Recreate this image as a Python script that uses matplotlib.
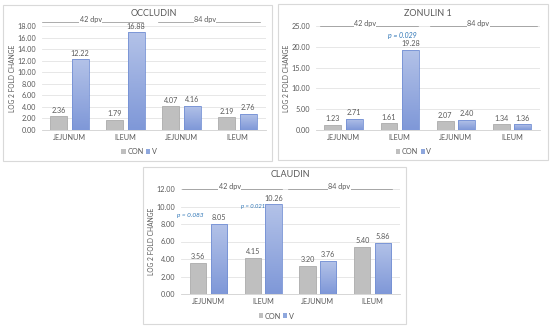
import matplotlib
matplotlib.use("Agg")
import matplotlib.pyplot as plt
from matplotlib.patches import Rectangle
import numpy as np

plt.rcParams['font.family'] = ['Lato', 'DejaVu Sans']

categories = ["JEJUNUM", "ILEUM", "JEJUNUM", "ILEUM"]
series_names = ["CON", "V"]

occludin_con = [2.36, 1.79, 4.07, 2.19]
occludin_v = [12.22, 16.88, 4.16, 2.76]
zonulin_con = [1.23, 1.61, 2.07, 1.34]
zonulin_v = [2.71, 19.28, 2.40, 1.36]
claudin_con = [3.56, 4.15, 3.20, 5.40]
claudin_v = [8.05, 10.26, 3.76, 5.86]

occludin_ticks = [0, 2, 4, 6, 8, 10, 12, 14, 16, 18]
zonulin_ticks = [0, 5, 10, 15, 20, 25]
claudin_ticks = [0, 2, 4, 6, 8, 10, 12]

period_labels = ["42 dpv", "84 dpv"]

TXT = "#595959"
GRAY = "#BFBFBF"
GRAY_E = "#ABABAB"
BLUE_TOP = "#B3C2E8"
BLUE_BOT = "#7F98D8"
BLUE = "#8EA7DD"
BLUE_E = "#7490D4"
PCOL = "#2E75B6"

W, H = 550, 329
fig = plt.figure(figsize=(5.5, 3.29), dpi=100)

def px_box(x0, y0, x1, y1):
    return [x0 / W, 1 - y1 / H, (x1 - x0) / W, (y1 - y0) / H]

# panel borders
for (x0, y0, x1, y1) in [(3, 5, 272, 161), (278, 4, 548, 160), (143, 167, 406, 324)]:
    fig.patches.append(Rectangle((x0 / W, 1 - y1 / H), (x1 - x0) / W, (y1 - y0) / H,
                                 transform=fig.transFigure, fill=False,
                                 edgecolor="#D9D9D9", linewidth=0.8))

def gradient_bars(ax, bars, top, bot):
    from matplotlib.colors import LinearSegmentedColormap
    cmap = LinearSegmentedColormap.from_list("g", [bot, top])
    grad = np.linspace(0, 1, 64).reshape(-1, 1)
    for b in bars:
        x0, y0 = b.get_x(), b.get_y()
        w, h = b.get_width(), b.get_height()
        im = ax.imshow(grad, extent=[x0, x0 + w, y0, y0 + h], origin='lower',
                       aspect='auto', cmap=cmap, zorder=3)
        im.set_clip_path(b)
        b.set_facecolor('none')

def panel(box, title, con, v, ticks, title_y, pvals, segs, line_y, leg_y):
    ax = fig.add_axes(box)
    x = np.arange(len(categories))
    bw = 0.30
    off = 0.19
    ax.bar(x - off, con, bw, color=GRAY, edgecolor=GRAY_E, linewidth=0.6, zorder=3)
    vb = ax.bar(x + off, v, bw, color=BLUE, edgecolor=BLUE_E, linewidth=0.6, zorder=4)
    gradient_bars(ax, vb, BLUE_TOP, BLUE_BOT)
    ymax = ticks[-1]
    ax.set_ylim(0, ymax)
    ax.set_xlim(-0.5, len(categories) - 0.5)
    ax.set_yticks(ticks)
    ax.set_yticklabels([f"{t:.2f}" for t in ticks])
    ax.set_xticks(x)
    ax.set_xticklabels(categories)
    ax.tick_params(axis='both', length=0, labelsize=5.2, colors=TXT, pad=3)
    ax.tick_params(axis='y', pad=4)
    ax.grid(axis='y', color="#E3E3E3", linewidth=0.6, zorder=0)
    for s in ['top', 'right', 'left']:
        ax.spines[s].set_visible(False)
    ax.spines['bottom'].set_color("#D0D0D0")
    ax.spines['bottom'].set_linewidth(0.6)
    ax.set_ylabel("LOG 2 FOLD CHANGE", fontsize=4.8, color=TXT, labelpad=1)
    for xi, val in zip(x - off, con):
        ax.text(xi, val + ymax * 0.025, f"{val:.2f}", ha='center', va='bottom',
                fontsize=5.2, color=TXT)
    for xi, val in zip(x + off, v):
        ax.text(xi, val + ymax * 0.025, f"{val:.2f}", ha='center', va='bottom',
                fontsize=5.2, color=TXT)
    ax.text(0.5, title_y, title, transform=ax.transAxes, ha='center', va='center',
            fontsize=6.5, color=TXT)
    tr = ax.get_xaxis_transform()
    for (a, b, c), lab in zip(segs, period_labels):
        ax.plot([a, b], [line_y, line_y], transform=tr,
                color="#8C8C8C", linewidth=0.5, clip_on=False)
        ax.text(c, line_y - 0.012, lab, transform=tr,
                ha='center', va='bottom', fontsize=5.2, color=TXT,
                bbox=dict(facecolor='white', edgecolor='none', pad=0.2))
    for (px, py, txt, fs) in pvals:
        ax.text(px, py, txt, ha='center', va='center', fontsize=fs, color=PCOL,
                style='italic')
    # legend
    ax.add_patch(Rectangle((0.357, leg_y - 0.02), 0.018, 0.045, transform=ax.transAxes,
                           facecolor=GRAY, edgecolor='none', clip_on=False))
    ax.text(0.383, leg_y, "CON", transform=ax.transAxes, ha='left', va='center',
            fontsize=5.2, color=TXT)
    ax.add_patch(Rectangle((0.468, leg_y - 0.02), 0.018, 0.045, transform=ax.transAxes,
                           facecolor=BLUE, edgecolor='none', clip_on=False))
    ax.text(0.494, leg_y, "V", transform=ax.transAxes, ha='left', va='center',
            fontsize=5.2, color=TXT)
    return ax

panel(px_box(41.5, 26, 265.5, 130), "OCCLUDIN", occludin_con, occludin_v, occludin_ticks,
      1.125, [], [(-0.49, 1.31, 0.38), (1.58, 3.4, 2.42)], 1.04, -0.21)
panel(px_box(315.5, 26, 540, 130), "ZONULIN 1", zonulin_con, zonulin_v, zonulin_ticks,
      1.125, [(1.05, 22.8, "p = 0.029", 5.0)],
      [(-0.42, 1.33, 0.38), (1.54, 3.44, 2.4)], 1.0, -0.21)
panel(px_box(181, 189, 400, 294), "CLAUDIN", claudin_con, claudin_v, claudin_ticks,
      1.135, [(-0.33, 9.0, "p = 0.083", 4.6), (0.81, 9.95, "p = 0.021", 4.2)],
      [(-0.48, 1.34, 0.39), (1.45, 3.35, 2.39)], 1.0, -0.21)

fig.savefig("out.png", dpi=100)
